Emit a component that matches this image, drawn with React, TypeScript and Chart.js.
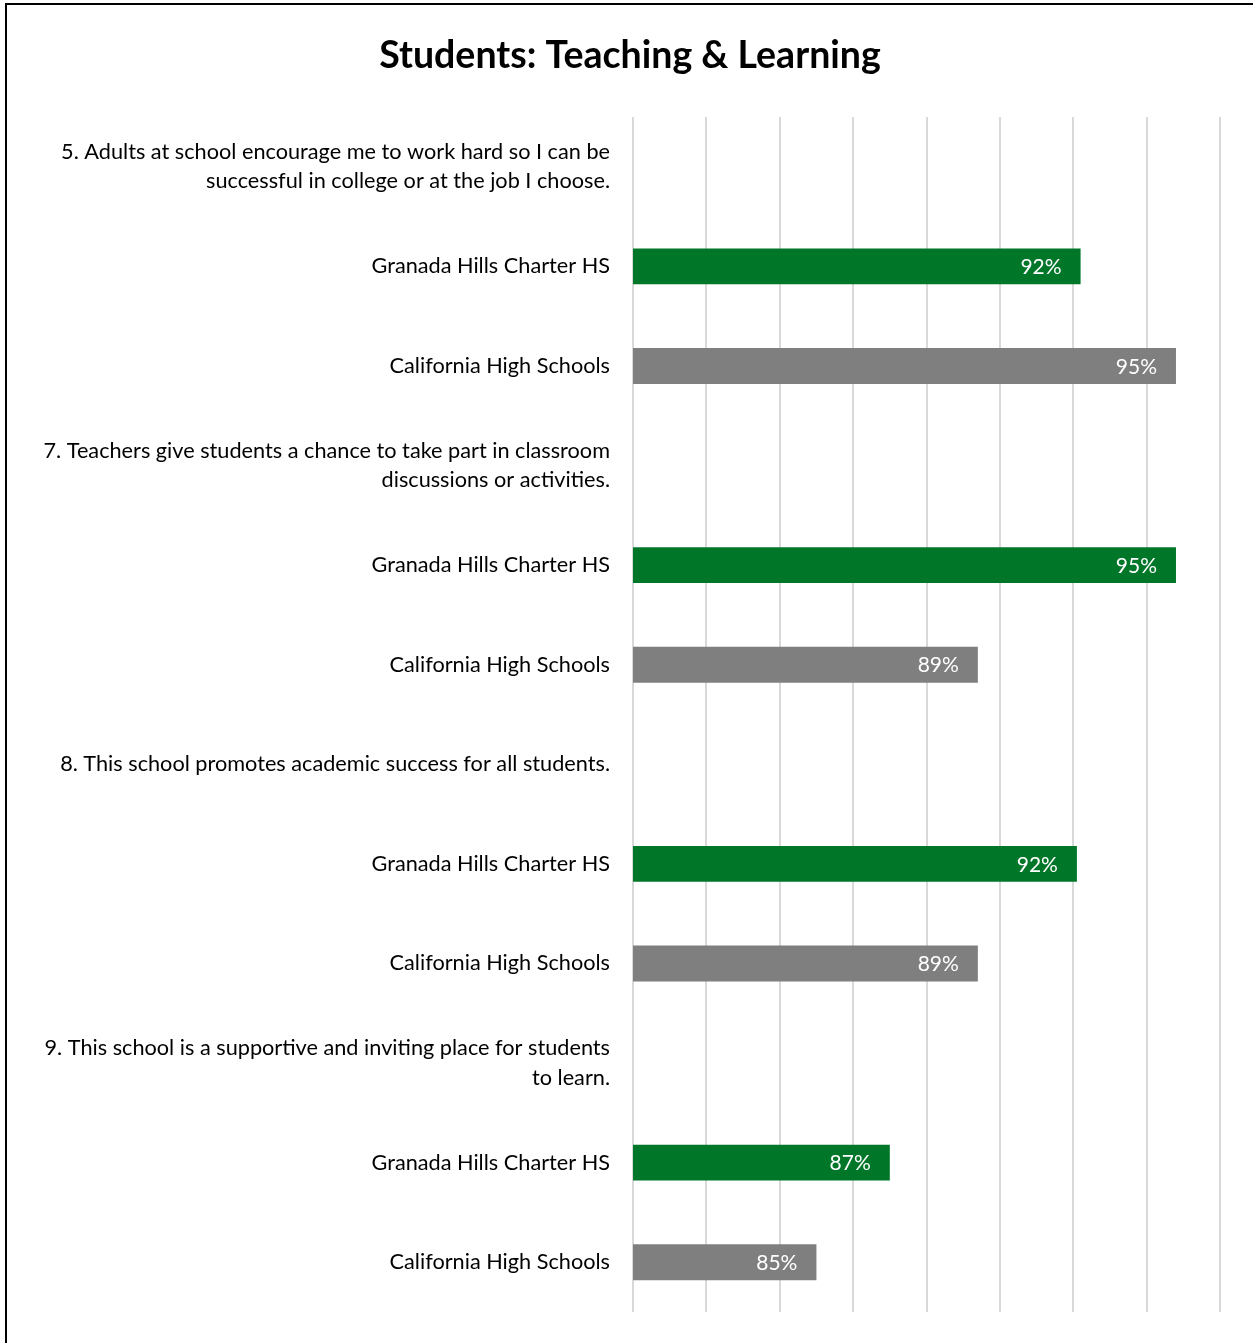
import React, { useEffect, useRef } from "react";
import { Chart, registerables } from "chart.js";

Chart.register(...registerables);

const chartTitle = "Students: Teaching & Learning";
const questions: string[][] = [
  ["5. Adults at school encourage me to work hard so I can be", "successful in college or at the job I choose."],
  ["7. Teachers give students a chance to take part in classroom", "discussions or activities."],
  ["8. This school promotes academic success for all students."],
  ["9. This school is a supportive and inviting place for students", "to learn."],
];
const schoolLabel = "Granada Hills Charter HS";
const stateLabel = "California High Schools";
const schoolValues = [0.922, 0.948, 0.921, 0.87];
const stateValues = [0.948, 0.894, 0.894, 0.85];
const axisMin = 0.8;
const axisMax = 0.96;
const axisStep = 0.02;

const GREEN = "#007629";
const GRAY = "#7f7f7f";
const FONT = "Lato, 'Open Sans', sans-serif";

export default function App() {
  const ref = useRef<HTMLCanvasElement | null>(null);

  useEffect(() => {
    document.body.style.margin = "0";
    const labels: (string | string[])[] = [];
    const data: (number | null)[] = [];
    const colors: string[] = [];
    questions.forEach((q, i) => {
      labels.push(q);
      data.push(null);
      colors.push("rgba(0,0,0,0)");
      labels.push(schoolLabel);
      data.push(schoolValues[i]);
      colors.push(GREEN);
      labels.push(stateLabel);
      data.push(stateValues[i]);
      colors.push(GRAY);
    });

    const valueLabels = {
      id: "valueLabels",
      afterDatasetsDraw(chart: any) {
        const ctx = chart.ctx;
        const meta = chart.getDatasetMeta(0);
        ctx.save();
        ctx.font = `21px ${FONT}`;
        ctx.fillStyle = "#ffffff";
        ctx.textAlign = "right";
        ctx.textBaseline = "middle";
        meta.data.forEach((bar: any, idx: number) => {
          const v = data[idx];
          if (v == null) return;
          ctx.fillText(Math.round(v * 100) + "%", bar.x - 19, bar.y + 1);
        });
        ctx.restore();
      },
    };

    const chart = new Chart(ref.current!, {
      type: "bar",
      data: {
        labels,
        datasets: [
          {
            data,
            backgroundColor: colors,
            barPercentage: 0.36,
            categoryPercentage: 1,
          },
        ],
      },
      options: {
        indexAxis: "y",
        animation: false,
        responsive: false,
        devicePixelRatio: 1,
        layout: { padding: { left: 40, right: 33, top: 0, bottom: 31 } },
        plugins: {
          legend: { display: false },
          tooltip: { enabled: false },
          title: {
            display: true,
            text: chartTitle,
            color: "#000000",
            font: { family: FONT, size: 37.5, weight: "bold", lineHeight: 1.2 },
            padding: { top: 33, bottom: 39 },
          },
        },
        scales: {
          x: {
            min: axisMin,
            max: axisMax,
            ticks: { display: false, stepSize: axisStep },
            grid: { color: "#d9d9d9", lineWidth: 2, drawTicks: false },
            border: { display: false },
            afterFit(scale: any) {
              scale.height = 0;
              scale.paddingLeft = 0;
              scale.paddingRight = 0;
            },
          },
          y: {
            ticks: {
              color: "#000000",
              font: { family: FONT, size: 21.7, lineHeight: 1.34 },
              padding: 23,
            },
            grid: { display: false, drawTicks: false },
            border: { display: false },
            afterFit(scale: any) {
              scale.width = 593;
              scale.paddingTop = 0;
              scale.paddingBottom = 0;
            },
          },
        },
      },
      plugins: [valueLabels],
    });
    return () => chart.destroy();
  }, []);

  return (
    <div style={{ position: "relative", width: 1253, height: 1343, overflow: "hidden", background: "#fff" }}>
      <canvas ref={ref} width={1253} height={1343} style={{ position: "absolute", left: 0, top: 0 }} />
      <div
        style={{
          position: "absolute",
          left: 5,
          top: 3,
          width: 1300,
          height: 1400,
          border: "2px solid #000",
          pointerEvents: "none",
        }}
      />
    </div>
  );
}
